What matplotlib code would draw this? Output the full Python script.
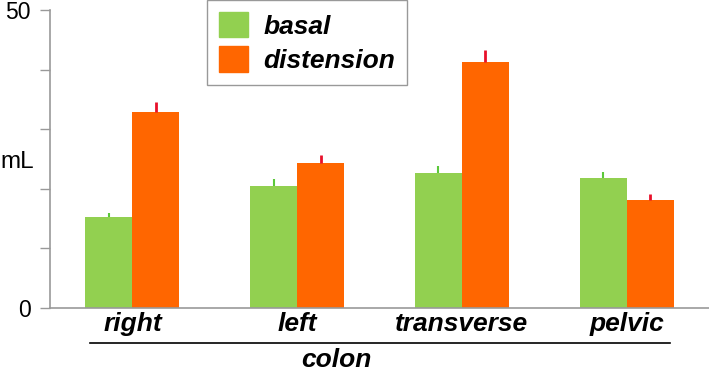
import numpy as np
import matplotlib
matplotlib.use('Agg')
import matplotlib.pyplot as plt
from matplotlib.patches import Patch

plt.rcParams['font.family'] = ['Liberation Sans', 'DejaVu Sans']

# data (mL)
segments = ['right', 'left', 'transverse', 'pelvic']
basal = [15.2, 20.5, 22.7, 21.8]
basal_err = [0.7, 1.1, 1.2, 1.1]
distension = [32.9, 24.4, 41.2, 18.1]
distension_err = [1.7, 1.2, 2.1, 1.0]

green = '#92D050'
orange = '#FF6600'

fig = plt.figure(figsize=(7.09, 3.75), dpi=100)
ax = fig.add_axes([50 / 709, 1 - 308 / 375, 1 - 50 / 709, 298 / 375])

x = np.arange(len(segments))
w = 0.285
ax.bar(x - w / 2, basal, w, color=green)
ax.bar(x + w / 2, distension, w, color=orange)

# only the upper half of each error bar
ax.errorbar(x - w / 2, basal, yerr=[np.zeros(4), basal_err], fmt='none',
            ecolor='#5CC83A', elinewidth=1.5, capsize=0)
ax.errorbar(x + w / 2, distension, yerr=[np.zeros(4), distension_err], fmt='none',
            ecolor='#E8102A', elinewidth=2, capsize=0)

ax.set_xlim(-0.5, 3.5)
ax.set_ylim(0, 50)
ax.set_yticks([0, 10, 20, 30, 40, 50])
ax.set_yticklabels(['0', '', '', '', '', '50'], fontsize=16.5)
ax.set_xticks(x)
ax.set_xticklabels(segments, fontsize=19, fontweight='bold', fontstyle='italic')
ax.tick_params(axis='x', length=0, pad=3)
ax.tick_params(axis='y', length=7, width=1, color='#999999', pad=7)

for s in ['top', 'right']:
    ax.spines[s].set_visible(False)
for s in ['left', 'bottom']:
    ax.spines[s].set_color('#999999')
    ax.spines[s].set_linewidth(1.2)

ax.set_ylabel('mL', fontsize=17.5, rotation=0, labelpad=0, ha='left', va='center')
ax.yaxis.set_label_coords(-0.0759, 0.49)

# line under the segment names and the group label
trans = ax.get_xaxis_transform()
ax.plot([-0.255, 3.265], [-0.116, -0.116], color='black', lw=1.2,
        transform=trans, clip_on=False)
ax.text(1.24, -0.175, 'colon', transform=trans, ha='center', va='center',
        fontsize=19, fontweight='bold', fontstyle='italic')

handles = [Patch(color=green, label='basal'), Patch(color=orange, label='distension')]
leg = ax.legend(handles=handles, loc='upper left',
                bbox_to_anchor=(207 / 709, 1.0), bbox_transform=fig.transFigure,
                fancybox=False, edgecolor='#999999', framealpha=1,
                prop={'size': 19, 'weight': 'bold', 'style': 'italic'},
                handlelength=1.1, handleheight=1.1, labelspacing=0.3,
                handletextpad=0.6, borderpad=0.45, borderaxespad=0)
leg.get_frame().set_linewidth(1.0)

fig.savefig('out.png', dpi=100)
